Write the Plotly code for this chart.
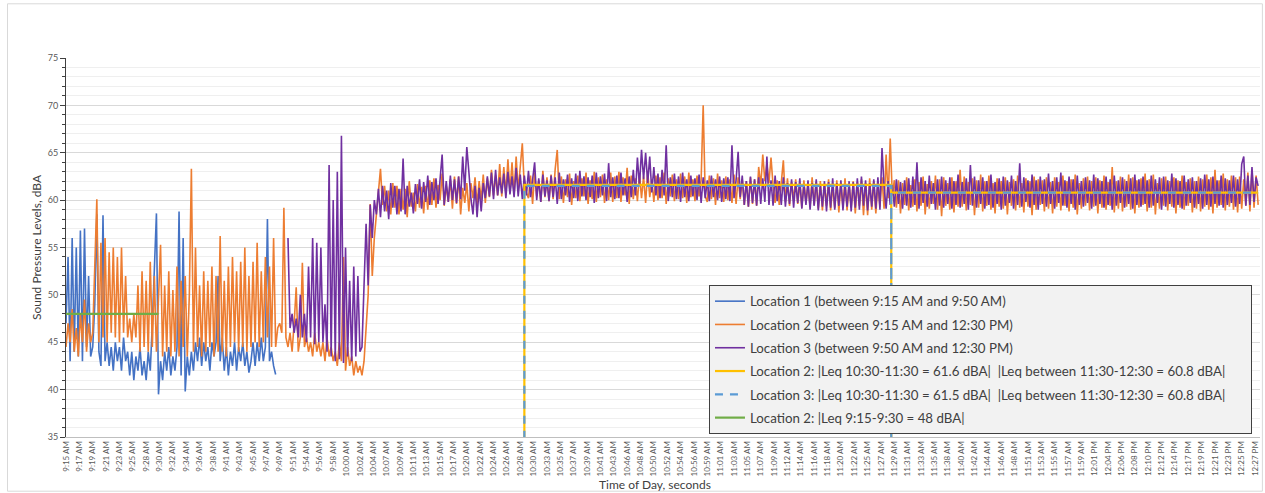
import pandas as pd
import plotly.graph_objects as go

DAY = "2024-01-01 "
SAMPLE_STEP = "20s"

# ---------------- data (dBA, one reading every 20 s) ----------------
loc1_start = "09:15:00"
loc1_dba = [
    47, 54, 43, 56, 44, 55, 43.5, 56.8, 43, 57, 44.5, 52, 43.5, 44.5, 49,
    58.5, 44, 42.5, 58.4, 43, 45, 42.5, 44.5, 42, 45, 43, 44.5, 42, 45.5, 43,
    44, 41.5, 44, 41, 43.5, 42, 44.5, 41.5, 43, 41, 44, 42, 47, 54, 58.6,
    39.5, 43, 41, 44, 42, 44.5, 41.5, 43.5, 42, 44.5, 58.8, 41.5, 56, 39.8, 43.5,
    41.5, 44, 42, 45, 43, 45.5, 42.5, 45, 43, 44.5, 42, 45, 43.5, 45, 52,
    43, 45.5, 42, 44.5, 41.5, 44, 42.5, 45, 42, 44.5, 43, 45, 42.5, 44, 41.8,
    43, 45, 42.5, 45, 43, 45.5, 43, 44.5, 58, 43, 44, 42.5, 41.6,
]

loc2_start = "09:15:00"
loc2_dba = [
    44.5, 47, 45, 48.5, 44, 46.5, 43.5, 48, 45, 49.5, 44, 47, 45, 46, 53,
    60.1, 45, 55.5, 45.5, 56, 45, 54.5, 46, 55, 45.5, 54, 45, 55, 46, 52,
    45.5, 47.5, 45, 48, 45.5, 51, 44, 52.5, 44.5, 51.5, 44, 53.5, 44.5, 52, 44,
    50, 55.3, 43.5, 51, 44, 52.5, 43.5, 50.5, 44, 53, 43.5, 51.5, 44.5, 52, 43.5,
    50, 63.3, 44, 55, 44.5, 51, 43.5, 52.5, 44, 51.5, 44.5, 53, 43.5, 52, 44,
    56.2, 44, 51.5, 43.5, 53, 44.5, 54, 45, 52.5, 44, 53.5, 44.5, 55, 44, 52,
    44.5, 53.5, 45, 55.5, 44.5, 52.5, 45, 54, 45.5, 53, 44.5, 56, 44.5, 46.5, 47,
    46, 59.2, 45.5, 44.5, 46, 44, 47, 50.8, 44, 45.5, 53.4, 44.5, 45.5, 44, 45,
    43.5, 46, 44, 45, 43.5, 45, 43, 45.5, 43.5, 44.5, 43, 44, 42.5, 45, 43,
    54, 42, 44.5, 42.5, 43.5, 41.5, 43, 41.8, 42.5, 41.5, 43, 46, 50, 59.6, 52,
    56, 58.5, 60.5, 63.3, 59.5, 61.5, 58.8, 61, 58.5, 61.8, 59.2, 61.5, 58.5, 61.2, 59,
    61.2, 58.2, 62, 59.3, 60.8, 58.8, 61.7, 59.2, 61.4, 58.6, 61.5, 59, 62.1, 59.5, 62.3,
    59.2, 61.6, 60, 62.8, 59.4, 61.5, 59.8, 62.2, 59.1, 62.5, 59.6, 62.5, 58.5, 61.3, 59.7,
    61.8, 58.8, 61.8, 60.2, 62.4, 59.5, 62, 60, 62.7, 59.7, 62.3, 60.3, 63.2, 60.5, 62.6,
    60.5, 63.8, 60.4, 63.5, 60.6, 64.3, 60.8, 64, 60.5, 64.6, 61, 63.8, 66, 61.2, 60.8,
    60.2, 62.6, 59.6, 62.9, 60.4, 62.1, 59.8, 63.1, 60.3, 62.4, 59.9, 62.7, 60.1, 63.3, 65.3,
    60.1, 62.5, 59.7, 62.2, 60.3, 62.8, 59.5, 62, 60.2, 62.6, 59.9, 62.3, 60.4, 62.9, 59.6,
    62.1, 60.1, 63, 59.8, 62.4, 60.3, 62.7, 59.7, 62.2, 60, 62.9, 59.8, 62.5, 60.2, 63,
    59.8, 62.4, 60.5, 63.4, 59.6, 62.6, 60.1, 62.3, 59.9, 62.8, 60.2, 62.5, 59.7, 63.1, 60.3,
    62.2, 59.8, 62.6, 60, 62.4, 60.2, 62.9, 59.6, 62.3, 60.4, 62.7, 59.9, 62.2, 60.1, 62.8,
    60.2, 62.5, 59.7, 62.9, 60.3, 62.2, 59.9, 62.6, 60.4, 62.1, 70, 60.4, 59.8, 62.6, 60.1,
    62.3, 59.5, 62.8, 60.2, 62.1, 59.8, 62.5, 60, 62.2, 59.7, 62.7, 59.6, 62.4, 60.1, 62.2,
    59.5, 62, 59.3, 62.4, 59.6, 62.2, 59.4, 63.5, 61.5, 64.8, 62, 63.8, 61.8, 64.5, 61.5,
    59.7, 62.1, 59.5, 62.3, 64.2, 59.8, 62.3, 59.4, 61.9, 60, 62.2, 59.6, 61.8, 59.2, 62.1,
    59.7, 61.6, 59.3, 62.4, 59.5, 61.9, 59.1, 62, 58.9, 61.7, 59.4, 62.2, 58.9, 61.5, 59.2,
    62.1, 58.7, 61.8, 59.3, 62.3, 58.9, 61.6, 59.2, 62, 58.6, 61.9, 59.4, 62.2, 58.4, 61.8,
    58.4, 62.3, 59, 62, 58.6, 61.7, 59.3, 62.4, 59.1, 64.8, 60.2, 66.5, 60.5, 62.1, 59.2,
    62.1, 58.6, 61.8, 59.5, 62.4, 58.9, 61.6, 59.3, 62.2, 58.8, 61.9, 59.4, 62.5, 58.5, 61.7,
    59.1, 62, 59.6, 62.6, 59, 62.2, 58.3, 62.4, 59.4, 61.8, 59, 62.4, 58.7, 62, 59.3,
    63.2, 59.3, 62.5, 58.9, 61.9, 59.5, 62.3, 58.4, 62.1, 59.2, 62.7, 58.8, 62, 59.4, 62.6,
    59, 61.8, 58.6, 62.3, 59.3, 62, 59.1, 62.4, 58.5, 61.9, 59.4, 62.2, 58.9, 62.6, 59.2,
    61.8, 58.7, 62.3, 59.3, 62, 58.4, 62.5, 59, 62.2, 59.5, 62.1, 58.8, 62.4, 59.1, 61.9,
    58.6, 62.4, 59.3, 61.9, 58.9, 62.6, 59.4, 62, 58.8, 62.2, 59.2, 62.7, 58.5, 61.8, 59.1,
    62.3, 59.4, 62.5, 58.9, 62, 59.3, 62.4, 58.6, 62.1, 59.2, 62.6, 59, 61.9, 59.4, 63.5,
    58.7, 62, 59.1, 62.5, 58.8, 62.2, 59.3, 62.7, 59, 62.4, 58.6, 62.1, 59.2, 62.3, 59.5,
    62.8, 58.8, 62.2, 59.2, 62.7, 58.5, 61.8, 59.1, 62.3, 59.4, 62.5, 58.9, 62, 59.3, 62.4,
    58.6, 62.1, 59.2, 62.6, 59, 61.9, 59.4, 62.3, 58.7, 62, 59.1, 62.5, 58.8, 62.2, 59.3,
    62.7, 59, 62.4, 58.6, 63.2, 59.2, 62.1, 59.5, 62.8, 58.9, 62.2, 59.3, 62.6, 59, 62.4,
    58.7, 62.5, 59.1, 62.2, 59.4, 62.9, 58.8, 63.2, 59.2, 62.6, 59.5,
]

loc3_start = "09:51:00"
loc3_dba = [
    56, 46.5, 48, 46, 47.5, 45.5, 50, 45.5, 48, 45, 53, 45.5, 56, 44.8, 55.5,
    45, 55, 45, 49, 44, 63.7, 43.5, 60, 43, 63, 43.2, 66.8, 42.8, 55, 43.5,
    51.5, 43, 53, 43.5, 52, 44, 44.5, 50.5, 57.5, 51, 59.5, 56, 60, 58.5, 61.2,
    58.2, 61.5, 58.8, 61, 58, 61.8, 59.2, 61.5, 58.5, 61.2, 58.8, 64.4, 58.5, 61.5, 59.3,
    60.8, 58.6, 61.7, 59.6, 62.2, 59.1, 61.9, 59.8, 62.6, 59.5, 61.9, 60, 62.3, 59.6, 62.4,
    64.8, 59.5, 62, 59.8, 62.6, 60, 62.2, 59.7, 62.5, 60.1, 64.6, 61, 65.6, 63, 60.2,
    58.5, 61.5, 58.2, 61.3, 58.8, 61.8, 60.2, 62.5, 60.4, 62.9, 60.1, 63.2, 60.5, 62.4, 60.7,
    62.8, 60.2, 63, 60.6, 62.5, 60.3, 63.4, 60.4, 62.7, 60.1, 62.6, 60.5, 63.1, 60.3, 62.5,
    64, 60, 62.3, 59.8, 62.7, 60.4, 62.1, 59.9, 62.6, 60.3, 62.4, 59.6, 62.9, 60.1, 62.2,
    60.5, 62.7, 59.8, 62.3, 60.2, 62.8, 59.9, 63.1, 60.4, 62.5, 60, 62.4, 60.3, 62.6, 59.7,
    62.9, 60.2, 62.5, 60.5, 62.8, 59.9, 63.9, 60.3, 62.4, 60.1, 62.6, 60.2, 62.9, 60.5, 62.3,
    59.8, 62.5, 60.3, 63.2, 60.5, 64.5, 61.5, 65.3, 62.2, 65, 61.8, 64.6, 60.8, 63.5, 60.5,
    62.8, 60.2, 63.2, 60.5, 65.8, 59.9, 62.4, 60.3, 62.8, 60.1, 62.5, 59.8, 62.9, 60.3, 62.2,
    59.9, 62.6, 60.4, 62.3, 60, 62.7, 59.7, 62.4, 60.2, 62.1, 59.9, 62.6, 60.3, 62.2, 60,
    62.5, 59.8, 62.3, 60.1, 62.4, 59.9, 65.8, 60.2, 62.1, 65.1, 60.3, 62.6, 59.5, 62, 59.3,
    62.5, 59.7, 62.2, 59.4, 62.4, 59.6, 62.3, 59.8, 64.6, 59.5, 62.1, 59.4, 62.6, 59.9, 62,
    59.5, 62.4, 59.3, 61.8, 59.6, 62.2, 59.2, 61.9, 59.7, 62.3, 59.1, 61.7, 59.5, 62.1, 59,
    61.8, 59.4, 62.2, 58.9, 61.6, 59.3, 62, 58.8, 61.9, 59.2, 62.3, 59, 61.8, 59.4, 62.1,
    58.9, 61.6, 59.3, 62, 58.8, 61.9, 59.2, 62.3, 59, 62.5, 59.4, 62.1, 58.9, 61.8, 59.3,
    62.2, 59.1, 62.4, 59, 65.5, 61.4, 59.1, 62, 59.5, 61.6, 59.3, 62.2, 59.6, 61.9, 59.1,
    62.1, 59.4, 62.3, 59.2, 62.5, 59.5, 64, 59.1, 62.4, 59.7, 62, 59.3, 62.6, 59.6, 61.8,
    59, 62.2, 59.4, 62.5, 59.2, 62.1, 59.6, 62.4, 59.1, 62, 59.5, 62.7, 59.2, 61.9, 59.6,
    62.3, 59, 63.7, 59.4, 62.5, 59.2, 62.1, 59.6, 62.4, 59.1, 62, 59.5, 62.7, 59.2, 61.9,
    59.6, 62.3, 59, 62.5, 59.4, 62.1, 59.7, 62.6, 59.1, 62, 59.5, 63.9, 59.3, 62.4, 59.8,
    62.1, 59.2, 62.7, 59.5, 62.1, 59, 62.5, 59.6, 62.2, 59.3, 62.8, 59.6, 62, 59.1, 62.4,
    59.7, 62.9, 59.4, 62.1, 59.2, 62.5, 59.6, 62.2, 59, 62.6, 59.5, 62, 59.3, 62.4, 59.7,
    62.1, 59.1, 62.7, 59.4, 62.3, 59.6, 62, 59.2, 62.5, 59.5, 62.2, 59, 62.6, 59.4, 62.1,
    59.7, 62.4, 59.2, 62, 59.6, 62.3, 59.1, 62.7, 59.5, 62.2, 59.3, 62.5, 59.6, 62.1, 59.2,
    62.6, 59.4, 62.2, 59.7, 62.4, 59, 62.5, 59.3, 62.1, 59.6, 62.8, 59.2, 62.3, 59.5, 62,
    59.1, 62.6, 59.4, 62.2, 59.7, 62.4, 59.2, 62, 59.6, 62.3, 59.1, 62.7, 59.5, 62.2, 59.3,
    62.5, 59.6, 62.1, 59.4, 62.6, 59.2, 62.3, 59.5, 62.1, 59.7, 62.6, 59.3, 62.2, 59.6, 63.8,
    64.6, 59.4, 62.6, 59.5, 63.5, 59.8, 62.4, 61.5,
]

leq2_times = ["10:29:20", "10:29:20", "11:28:50", "11:28:50", "11:28:50", "12:28:20"]
leq2_dba = [0, 61.6, 61.6, 0, 60.8, 60.8]
leq3_times = ["10:29:20", "10:29:20", "11:28:50", "11:28:50", "11:28:50", "12:28:20"]
leq3_dba = [0, 61.5, 61.5, 0, 60.8, 60.8]
leq2_early_times = ["09:15:00", "09:30:00"]
leq2_early_dba = [48, 48]

tick_start = "09:15:00"
tick_step = "130s"
tick_labels = [
    "9:15 AM", "9:17 AM", "9:19 AM", "9:21 AM", "9:23 AM", "9:25 AM", "9:28 AM", "9:30 AM",
    "9:32 AM", "9:34 AM", "9:36 AM", "9:38 AM", "9:41 AM", "9:43 AM", "9:45 AM", "9:47 AM",
    "9:49 AM", "9:51 AM", "9:54 AM", "9:56 AM", "9:58 AM",
    "10:00 AM", "10:02 AM", "10:04 AM", "10:07 AM", "10:09 AM", "10:11 AM", "10:13 AM",
    "10:15 AM", "10:17 AM", "10:20 AM", "10:22 AM", "10:24 AM", "10:26 AM", "10:28 AM",
    "10:30 AM", "10:33 AM", "10:35 AM", "10:37 AM", "10:39 AM", "10:41 AM", "10:43 AM",
    "10:46 AM", "10:48 AM", "10:50 AM", "10:52 AM", "10:54 AM", "10:56 AM", "10:59 AM",
    "11:01 AM", "11:03 AM", "11:05 AM", "11:07 AM", "11:09 AM", "11:12 AM", "11:14 AM",
    "11:16 AM", "11:18 AM", "11:20 AM", "11:22 AM", "11:25 AM", "11:27 AM", "11:29 AM",
    "11:31 AM", "11:33 AM", "11:35 AM", "11:38 AM", "11:40 AM", "11:42 AM", "11:44 AM",
    "11:46 AM", "11:48 AM", "11:51 AM", "11:53 AM", "11:55 AM", "11:57 AM", "11:59 AM",
    "12:01 PM", "12:04 PM", "12:06 PM", "12:08 PM", "12:10 PM", "12:12 PM", "12:14 PM",
    "12:17 PM", "12:19 PM", "12:21 PM", "12:23 PM", "12:25 PM", "12:27 PM",
]

series_names = [
    "Location 1 (between 9:15 AM and 9:50 AM)",
    "Location 2 (between 9:15 AM and 12:30 PM)",
    "Location 3 (between 9:50 AM and 12:30 PM)",
    "Location 2: |Leq 10:30-11:30 = 61.6 dBA|\u00a0 |Leq between 11:30-12:30 = 60.8 dBA|",
    "Location 3: |Leq 10:30-11:30 = 61.5 dBA|\u00a0 |Leq between 11:30-12:30 = 60.8 dBA|",
    "Location 2: |Leq 9:15-9:30 = 48 dBA|",
]
x_title = "Time of Day, seconds"
y_title = "Sound Pressure Levels, dBA"
# --------------------------------------------------------------------


def times_for(start, values):
    return pd.date_range(DAY + start, periods=len(values), freq=SAMPLE_STEP)


def clock(ts):
    return [pd.Timestamp(DAY + t) for t in ts]


DATA_W = 1.6
PAD = "\u00a0" * 6
fig = go.Figure()
fig.add_trace(go.Scatter(x=times_for(loc1_start, loc1_dba), y=loc1_dba, mode="lines",
                         name=series_names[0], legendgroup="a",
                         line=dict(color="#4472C4", width=DATA_W)))
fig.add_trace(go.Scatter(x=times_for(loc2_start, loc2_dba), y=loc2_dba, mode="lines",
                         name=series_names[1], legendgroup="b",
                         line=dict(color="#ED7D31", width=DATA_W)))
fig.add_trace(go.Scatter(x=times_for(loc3_start, loc3_dba), y=loc3_dba, mode="lines",
                         name=series_names[2], legendgroup="c",
                         line=dict(color="#7030A0", width=DATA_W)))
fig.add_trace(go.Scatter(x=clock(leq2_times), y=leq2_dba, mode="lines",
                         name=series_names[3] + PAD, legendgroup="d",
                         line=dict(color="#FFC000", width=2.2)))
fig.add_trace(go.Scatter(x=clock(leq3_times), y=leq3_dba, mode="lines",
                         name=series_names[4] + PAD, legendgroup="e",
                         line=dict(color="#5B9BD5", width=2.2, dash="8px,7px")))
fig.add_trace(go.Scatter(x=clock(leq2_early_times), y=leq2_early_dba, mode="lines",
                         name=series_names[5], legendgroup="f",
                         line=dict(color="#70AD47", width=2.2)))

tick_vals = pd.date_range(DAY + tick_start, periods=len(tick_labels), freq=tick_step)

fig.update_layout(
    width=1265, height=493,
    margin=dict(l=66, r=5, t=58, b=56, autoexpand=False),
    paper_bgcolor="white", plot_bgcolor="white",
    font=dict(family="Lato, 'Open Sans', sans-serif", color="#595959"),
    showlegend=True,
    legend=dict(x=0.5385, y=0.401, xanchor="left", yanchor="top",
                bgcolor="#F2F2F2", bordercolor="#404040", borderwidth=1,
                font=dict(size=13.3, color="#404040"), tracegroupgap=3,
                itemwidth=30),
    xaxis=dict(
        type="date", automargin=False,
        range=[DAY + "09:15:00", DAY + "12:28:38"],
        tickmode="array", tickvals=tick_vals, ticktext=tick_labels,
        tickangle=-90, tickfont=dict(size=8, color="#595959"),
        showgrid=False, showline=True, linecolor="#BFBFBF", ticks="",
    ),
    yaxis=dict(
        automargin=False,
        range=[35, 75], tick0=35, dtick=5,
        showgrid=True, gridcolor="#D9D9D9", gridwidth=1,
        minor=dict(dtick=1, showgrid=True, gridcolor="#EFEFEF", ticks="outside",
                   ticklen=3, tickcolor="#404040"),
        ticks="outside", ticklen=5, tickcolor="#404040",
        showline=True, linecolor="#404040", linewidth=1,
        tickfont=dict(size=9, color="#595959"),
        zeroline=False,
        title=dict(text=y_title, font=dict(size=12, color="#404040"), standoff=3),
    ),
    annotations=[dict(text=x_title, xref="paper", yref="paper", x=0.493, y=-0.1266,
                      xanchor="center", yanchor="middle", showarrow=False,
                      font=dict(size=12, color="#404040"))],
    shapes=[dict(type="rect", xref="paper", yref="paper",
                 x0=-0.049, x1=1.002, y0=-0.143, y1=1.143,
                 line=dict(color="#D9D9D9", width=1), fillcolor="rgba(0,0,0,0)", layer="below")],
)

fig.write_html("out.html", config={"displayModeBar": False},
               post_script="document.body.style.margin='0';")
